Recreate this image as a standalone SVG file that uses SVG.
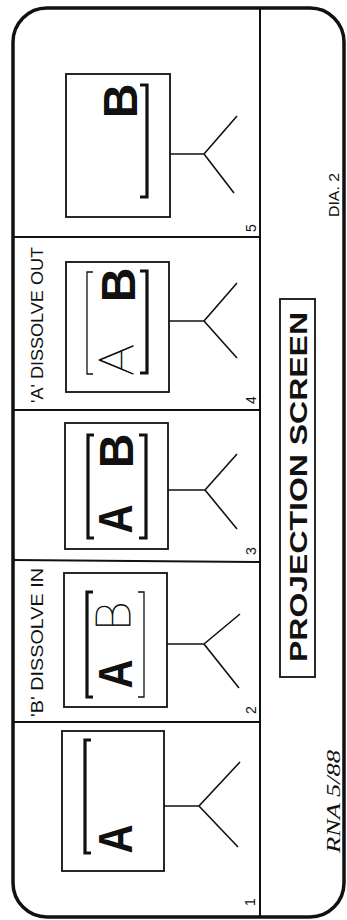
<svg xmlns="http://www.w3.org/2000/svg" width="347" height="920" viewBox="0 0 347 920">
<style>
.frame{stroke:#111;fill:none;stroke-width:3.5}
.sep{stroke:#111;stroke-width:2}
.box{stroke:#111;fill:none;stroke-width:1.8}
.stand{stroke:#111;fill:none;stroke-width:1.6}
.thick{stroke:#111;fill:none;stroke-width:3.2}
.thin{stroke:#111;fill:none;stroke-width:1.3}
.big{font-family:"Liberation Sans",Arial,sans-serif;font-weight:bold;font-size:48px;fill:#111}
.light{font-family:Lato,"Open Sans",Roboto,sans-serif;font-weight:100;font-size:48px;fill:#111;stroke:#111;stroke-width:0.8}
.lbl{font-family:"Liberation Sans",Arial,sans-serif;font-size:17px;fill:#111}
.num{font-family:"Liberation Sans",Arial,sans-serif;font-size:14px;fill:#111}
.title{font-family:"Liberation Sans",Arial,sans-serif;font-weight:bold;font-size:23px;fill:#111}
</style>
<rect width="347" height="920" fill="#fff"/>
<g id="frame">
<rect class="frame" x="13" y="8" width="331" height="909" rx="34" ry="34"/>
<line class="sep" x1="260" y1="8" x2="260" y2="917"/>
<line class="sep" x1="13" y1="237" x2="260" y2="237"/>
<line class="sep" x1="13" y1="410" x2="260" y2="410"/>
<line class="sep" x1="13" y1="560" x2="260" y2="562"/>
<line class="sep" x1="13" y1="722" x2="260" y2="722"/>
</g>
<g id="panel5">
<rect class="box" x="66" y="74" width="104" height="143"/>
<path class="thick" d="M140,85 H147 V197 H140"/>
<text class="big" transform="translate(137,101) rotate(-90)" text-anchor="middle">B</text>
<text class="num" transform="translate(256,228) rotate(-90)" text-anchor="middle">5</text>
</g>
<g id="panel4">
<rect class="box" x="66" y="262" width="103" height="130"/>
<path class="thin" d="M93,272 H87 V374 H93"/>
<path class="thick" d="M140,271 H147 V373 H140"/>
<text class="big" transform="translate(135,285) rotate(-90)" text-anchor="middle">B</text>
<text class="light" transform="translate(133,360) rotate(-90)" text-anchor="middle">A</text>
<text class="lbl" transform="translate(43,403) rotate(-90)" textLength="156" lengthAdjust="spacingAndGlyphs">'A' DISSOLVE OUT</text>
<text class="num" transform="translate(256,400) rotate(-90)" text-anchor="middle">4</text>
</g>
<g id="panel3">
<rect class="box" x="65" y="423" width="103" height="126"/>
<path class="thick" d="M94,435 H88 V538 H94"/>
<path class="thick" d="M139,435 H146 V538 H139"/>
<text class="big" transform="translate(133,451) rotate(-90)" text-anchor="middle">B</text>
<text class="big" transform="translate(132,519) rotate(-90)" text-anchor="middle" textLength="29" lengthAdjust="spacingAndGlyphs">A</text>
<text class="num" transform="translate(256,551) rotate(-90)" text-anchor="middle">3</text>
</g>
<g id="panel2">
<rect class="box" x="64" y="573" width="103" height="134"/>
<path class="thick" d="M93,592 H87 V697 H93"/>
<path class="thin" d="M138,592 H144 V697 H138"/>
<text class="light" transform="translate(130,616) rotate(-90)" text-anchor="middle">B</text>
<text class="big" transform="translate(132,674) rotate(-90)" text-anchor="middle" textLength="29" lengthAdjust="spacingAndGlyphs">A</text>
<text class="lbl" transform="translate(43,717) rotate(-90)" textLength="149" lengthAdjust="spacingAndGlyphs">'B' DISSOLVE IN</text>
<text class="num" transform="translate(256,710) rotate(-90)" text-anchor="middle">2</text>
</g>
<g id="panel1">
<rect class="box" x="62" y="731" width="102" height="140"/>
<path class="thick" d="M91,740 H85 V853 H91"/>
<text class="big" transform="translate(132,839) rotate(-90)" text-anchor="middle" textLength="29" lengthAdjust="spacingAndGlyphs">A</text>
<text class="num" transform="translate(255,902) rotate(-90)" text-anchor="middle">1</text>
</g>
<g id="connectors">
<path class="stand" d="M170,154 H204 M237,116 L204,154 L234,193"/>
<path class="stand" d="M169,321 H204 M237,283 L204,321 L237,358"/>
<path class="stand" d="M168,490 H205 M237,454 L205,490 L237,529"/>
<path class="stand" d="M167,644 H204 M240,614 L204,644 L239,688"/>
<path class="stand" d="M164,806 H199 M240,762 L199,806 L238,847"/>
</g>
<g id="screen-label">
<rect class="box" x="280" y="299" width="35" height="378"/>
<text class="title" transform="translate(307,662) rotate(-90)" textLength="350" lengthAdjust="spacingAndGlyphs">PROJECTION SCREEN</text>
</g>
<g id="notes">
<text class="num" transform="translate(339,217) rotate(-90)" textLength="44" lengthAdjust="spacingAndGlyphs">DIA. 2</text>
<text transform="translate(340,853) rotate(-90)" font-family="Liberation Serif,serif" font-style="italic" font-size="19" fill="#111" textLength="103" lengthAdjust="spacingAndGlyphs">RNA  5/88</text>
</g>
</svg>
